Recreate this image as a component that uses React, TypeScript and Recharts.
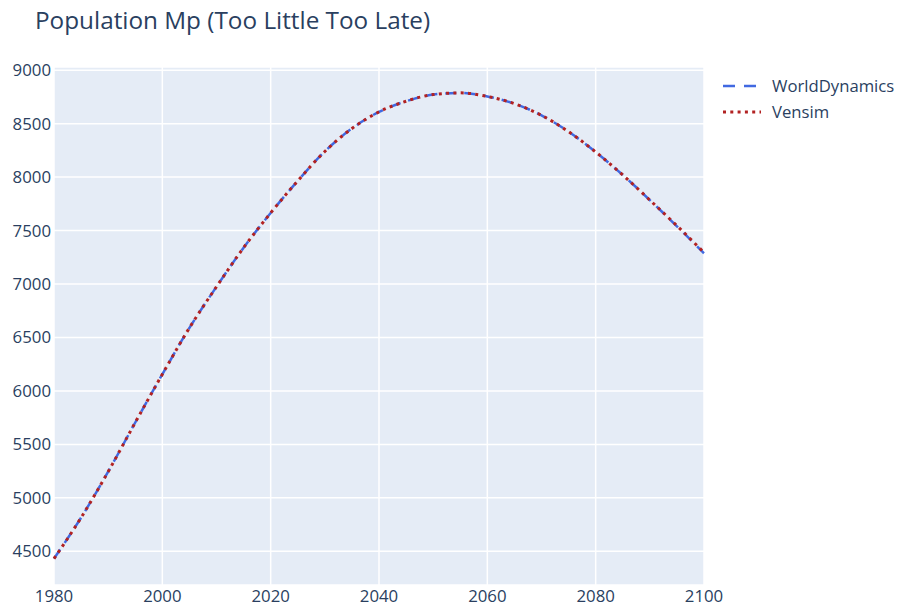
import { CartesianGrid, Line, LineChart, XAxis, YAxis } from 'recharts';

const years = [
  1980, 1985, 1990, 1995, 2000, 2005, 2010, 2015, 2020, 2025, 2030, 2035, 2040,
  2045, 2050, 2055, 2060, 2065, 2070, 2075, 2080, 2085, 2090, 2095, 2100,
];
const worldDynamics = [
  4432, 4815, 5245, 5705, 6156, 6590, 6975, 7340, 7665, 7965, 8240, 8455, 8610,
  8710, 8772, 8788, 8755, 8687, 8578, 8425, 8235, 8020, 7785, 7540, 7288,
];
const vensim = [
  4432, 4815, 5245, 5705, 6156, 6590, 6975, 7340, 7665, 7965, 8240, 8455, 8610,
  8710, 8772, 8788, 8755, 8687, 8578, 8425, 8235, 8020, 7785, 7545, 7295,
];
const xTicks = [1980, 2000, 2020, 2040, 2060, 2080, 2100];
const yTicks = [4500, 5000, 5500, 6000, 6500, 7000, 7500, 8000, 8500, 9000];

const data = years.map((year, i) => ({ year, wd: worldDynamics[i], vensim: vensim[i] }));

const font = '"Open Sans", "Noto Sans", sans-serif';
const ink = '#2a3f5f';
const blue = '#4169e1';
const red = '#b22222';

export default function App() {
  return (
    <div style={{ position: 'absolute', left: 0, top: 0, width: 899, height: 609, background: '#fff', fontFamily: font }}>
      <div style={{ position: 'absolute', left: 35, top: 3, fontSize: 24.3, color: ink, whiteSpace: 'nowrap' }}>
        Population Mp (Too Little Too Late)
      </div>
      <LineChart width={899} height={609} data={data} margin={{ top: 67, right: 195, bottom: 0, left: 0 }}>
        <CartesianGrid fill="#e5ecf6" stroke="#ffffff" strokeWidth={1.5} vertical horizontal />
        <XAxis
          dataKey="year"
          type="number"
          domain={[1980, 2100]}
          ticks={xTicks}
          height={24}
          tickSize={0}
          tickMargin={5}
          axisLine={false}
          tick={{ fill: ink, fontSize: 16.8, fontFamily: font }}
        />
        <YAxis
          type="number"
          domain={[4185, 9030]}
          ticks={yTicks}
          width={54}
          tickSize={0}
          tickMargin={3}
          axisLine={false}
          allowDataOverflow
          tick={{ fill: ink, fontSize: 16.8, fontFamily: font }}
        />
        <Line type="monotone" dataKey="wd" stroke={blue} strokeWidth={2.5} strokeDasharray="11 8" dot={false} isAnimationActive={false} />
        <Line type="monotone" dataKey="vensim" stroke={red} strokeWidth={3} strokeDasharray="3 4.3" dot={false} isAnimationActive={false} />
      </LineChart>
      <svg style={{ position: 'absolute', left: 715, top: 74 }} width={184} height={50}>
        <line x1={8} y1={12} x2={46} y2={12} stroke={blue} strokeWidth={2.5} strokeDasharray="12 9" />
        <text x={57} y={12} dy="0.35em" fill={ink} fontSize={16.7} fontFamily={font}>WorldDynamics</text>
        <line x1={8} y1={38} x2={46} y2={38} stroke={red} strokeWidth={3} strokeDasharray="3 4.3" />
        <text x={57} y={38} dy="0.35em" fill={ink} fontSize={16.7} fontFamily={font}>Vensim</text>
      </svg>
    </div>
  );
}
